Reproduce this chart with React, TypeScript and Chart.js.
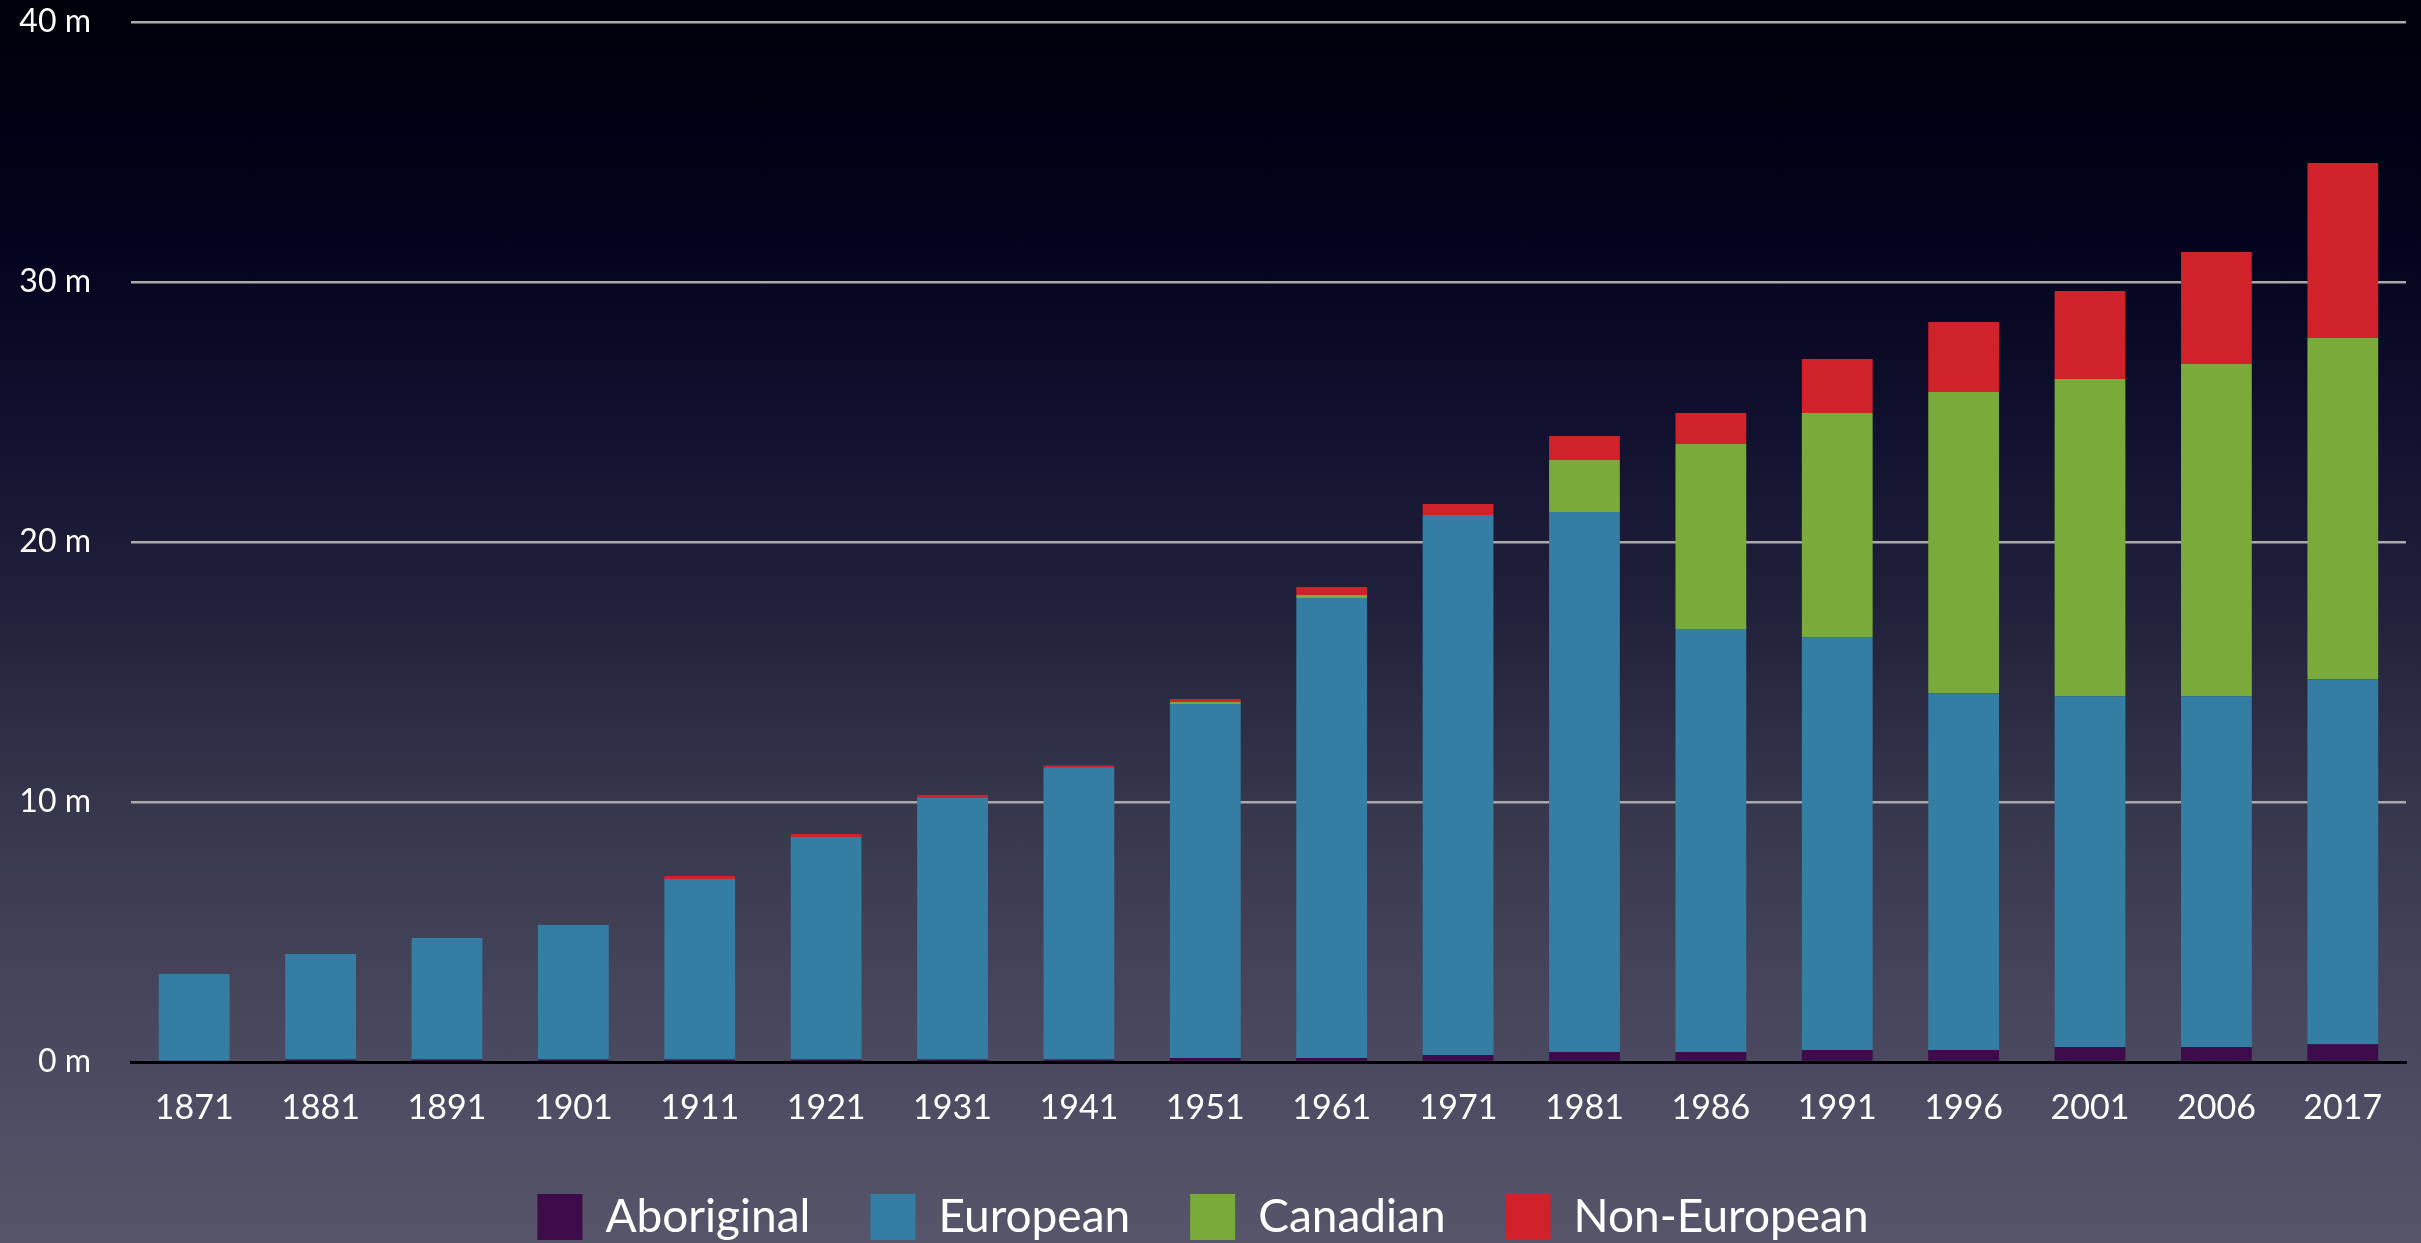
import { useEffect, useRef } from 'react';
import { Chart, registerables } from 'chart.js';

Chart.register(...registerables);

const years = ['1871', '1881', '1891', '1901', '1911', '1921', '1931', '1941', '1951', '1961', '1971', '1981', '1986', '1991', '1996', '2001', '2006', '2017'];
const aboriginal = [0.02, 0.1, 0.1, 0.1, 0.1, 0.1, 0.1, 0.1, 0.15, 0.15, 0.27, 0.38, 0.38, 0.46, 0.46, 0.58, 0.58, 0.68];
const european = [3.36, 4.05, 4.67, 5.17, 6.94, 8.55, 10.07, 11.24, 13.62, 17.7, 20.77, 20.77, 16.27, 15.89, 13.72, 13.49, 13.49, 14.04];
const canadian = [0, 0, 0, 0, 0, 0, 0, 0, 0.08, 0.11, 0, 2.0, 7.13, 8.61, 11.59, 12.2, 12.78, 13.13];
const nonEuropean = [0, 0, 0, 0, 0.11, 0.12, 0.1, 0.06, 0.11, 0.31, 0.42, 0.93, 1.18, 2.08, 2.69, 3.38, 4.3, 6.73];
const yTickValues = [0, 10, 20, 30, 40];
const yUnit = ' m';

const FONT = 'Lato, "Noto Sans", sans-serif';

export default function App() {
  const ref = useRef<HTMLCanvasElement>(null);

  useEffect(() => {
    document.body.style.margin = '0';
    const canvas = ref.current;
    if (!canvas) return;
    const chart = new Chart(canvas, {
      type: 'bar',
      data: {
        labels: years,
        datasets: [
          { label: 'Aboriginal', data: aboriginal, backgroundColor: '#3d0a4a' },
          { label: 'European', data: european, backgroundColor: '#357ea3' },
          { label: 'Canadian', data: canadian, backgroundColor: '#7aab3a' },
          { label: 'Non-European', data: nonEuropean, backgroundColor: '#d0222b' },
        ],
      },
      options: {
        animation: false,
        responsive: false,
        devicePixelRatio: 1,
        datasets: { bar: { barPercentage: 0.56, categoryPercentage: 1.0, borderWidth: 0 } },
        layout: { padding: { top: 22, right: 15, left: 0, bottom: -7 } },
        scales: {
          x: {
            stacked: true,
            grid: { display: false },
            border: { display: true, color: '#000000', width: 3, z: 1 },
            ticks: { color: '#ffffff', font: { family: FONT, size: 34 }, padding: 18, maxRotation: 0 },
            afterFit: (s: any) => {
              s.height = 72;
            },
          },
          y: {
            stacked: true,
            min: yTickValues[0],
            max: yTickValues[yTickValues.length - 1],
            afterBuildTicks: (s: any) => {
              s.ticks = yTickValues.map((v) => ({ value: v }));
            },
            afterFit: (s: any) => {
              s.width = 131;
              s.paddingTop = 0;
              s.paddingBottom = 0;
            },
            ticks: {
              color: '#ffffff',
              font: { family: FONT, size: 32 },
              padding: 40,
              callback: (v: any) => `${v}${yUnit}`,
            },
            grid: {
              drawTicks: false,
              color: (ctx: any) => (ctx.tick && ctx.tick.value === 0 ? 'rgba(0,0,0,0)' : '#aaaaaa'),
              lineWidth: 2.5,
            },
            border: { display: false },
          },
        },
        plugins: {
          legend: {
            position: 'bottom',
            labels: {
              color: '#ffffff',
              font: { family: FONT, size: 46 },
              boxWidth: 45,
              boxHeight: 46,
              padding: 60,
            },
          },
          tooltip: { enabled: false },
        },
      },
    });
    return () => chart.destroy();
  }, []);

  return (
    <div
      style={{
        width: 2421,
        height: 1243,
        overflow: 'hidden',
        background:
          'linear-gradient(to bottom, #00000a 0%, #03031e 20%, #121230 35%, #22223c 50%, #36364d 65%, #46455c 80%, #56556a 100%)',
      }}
    >
      <canvas ref={ref} width={2421} height={1243} style={{ display: 'block' }} />
    </div>
  );
}
